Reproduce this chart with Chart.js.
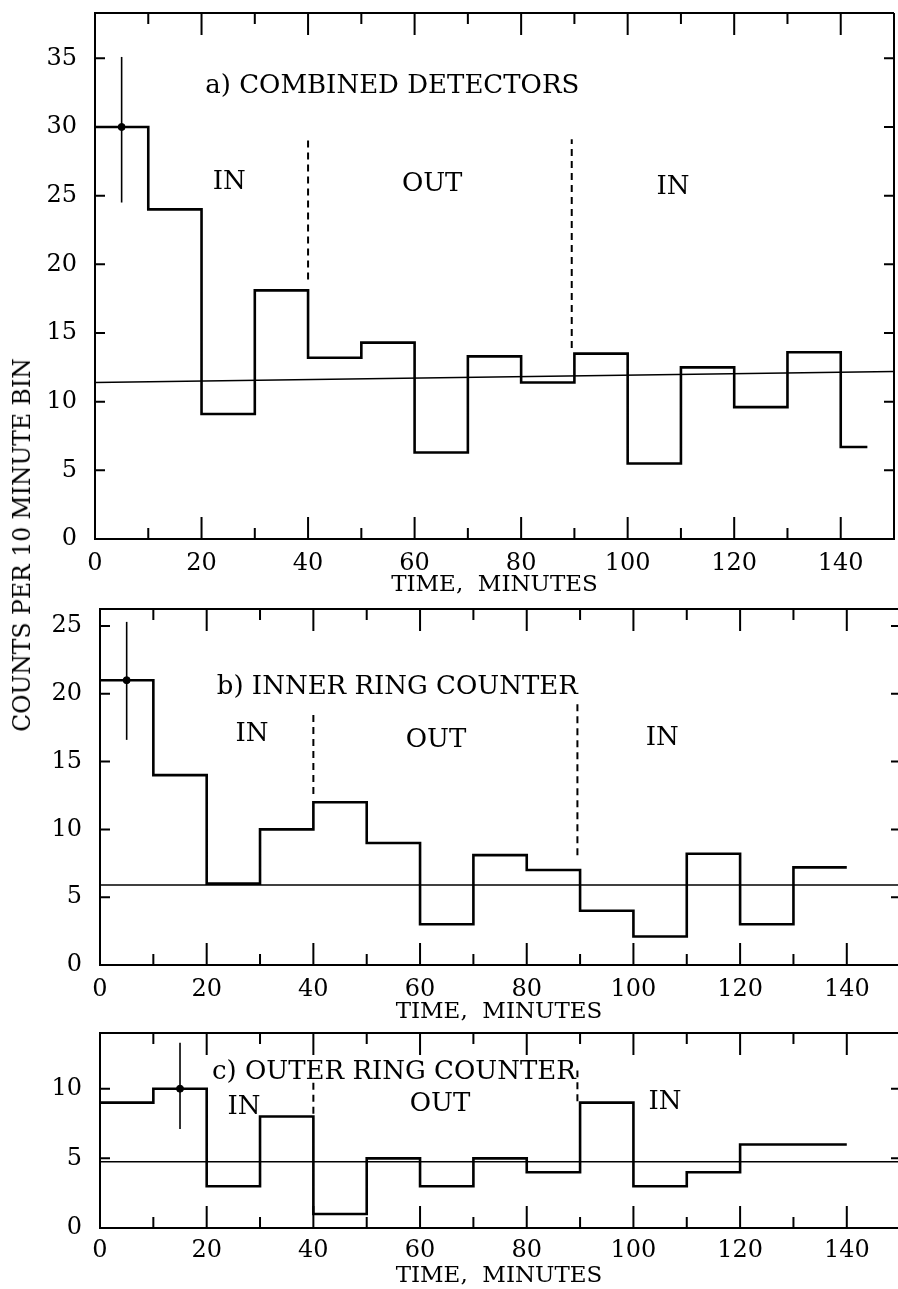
<!DOCTYPE html>
<html>
<head>
<meta charset="utf-8">
<script src="https://cdn.jsdelivr.net/npm/chart.js@4.4.1/dist/chart.umd.min.js"></script>
<style>
  html, body { margin: 0; padding: 0; background: #fff; overflow: hidden; width: 898px; height: 1289px; }
  #page { position: relative; width: 898px; height: 1289px; overflow: hidden; }
  canvas { position: absolute; left: 0; }
  #y-title {
    position: absolute; left: 22px; top: 545px;
    transform: translate(-50%, -50%) rotate(-90deg);
    font: 23.5px "DejaVu Serif"; white-space: nowrap; color: #000;
  }
</style>
</head>
<body>
<div id="page">
<canvas id="panel-a" width="898" height="605" style="top:0px"></canvas>
<canvas id="panel-b" width="898" height="442" style="top:590px"></canvas>
<canvas id="panel-c" width="898" height="281" style="top:1015px"></canvas>
<div id="y-title">COUNTS PER 10 MINUTE BIN</div>
</div>
<script>
// bin start times (minutes)
const binStarts = [0, 10, 20, 30, 40, 50, 60, 70, 80, 90, 100, 110, 120, 130, 140];

// counts per 10 minute bin
const countsA = [30, 24, 9.1, 18.1, 13.2, 14.3, 6.3, 13.3, 11.4, 13.5, 5.5, 12.5, 9.6, 13.6, 6.7];
const countsB = [21, 14, 6, 10, 12, 9, 3, 8.1, 7, 4, 2.1, 8.2, 3, 7.2];
const countsC = [9, 10, 3, 8, 1, 5, 3, 5, 4, 9, 3, 4, 6, 6];
const lastEdgeA = 145;
const lastEdgeB = 140;
const lastEdgeC = 140;

// fitted background level [at 0, at 150]
const fitA = [11.4, 12.2];
const fitB = [5.9, 5.9];
const fitC = [4.75, 4.75];

// error bar: [x, low, value, high]
const errA = [5, 24.5, 30, 35.1];
const errB = [5, 16.6, 21, 25.3];
const errC = [15, 7.1, 10, 13.3];

// IN / OUT boundaries: [x, from, to]
const dashA = [[40, 18.9, 29.2], [89.5, 13.9, 29.1]];
const dashB = [[40, 12.6, 18.7], [89.5, 8.1, 19.4]];
const dashC = [[40, 8.2, 10.6], [89.5, 9.1, 11.3]];

const yMaxA = 38.3;
const yMaxB = 26.25;
const yMaxC = 14;

// panels b and c are cut off by the page edge just short of 150
const xMaxA = 150;
const xMaxB = 149.6;
const xMaxC = 149.6;

const titleA = "a) COMBINED DETECTORS";
const titleB = "b) INNER RING COUNTER";
const titleC = "c) OUTER RING COUNTER";
const xTitle = "TIME,  MINUTES";

const serif = '"DejaVu Serif"';

function stepPoints(counts, lastEdge) {
  const pts = counts.map((c, i) => ({ x: binStarts[i], y: c }));
  pts.push({ x: lastEdge, y: counts[counts.length - 1] });
  return pts;
}

// box round the plot with ticks pointing inwards
const framePlugin = {
  id: "frame",
  afterDatasetsDraw(chart, args, opts) {
    const { ctx, chartArea: a, scales: { x, y } } = chart;
    ctx.save();
    ctx.strokeStyle = "#000";
    ctx.lineWidth = 2;
    ctx.beginPath();
    ctx.moveTo(a.right, a.top);
    ctx.lineTo(a.left, a.top);
    ctx.lineTo(a.left, a.bottom);
    ctx.lineTo(a.right, a.bottom);
    if (opts.rightEdge) ctx.lineTo(a.right, a.top);
    for (const t of x.ticks) {
      const px = x.getPixelForValue(t.value);
      if (px <= a.left + 1 || px >= a.right - 1) continue;
      const len = t.value % 20 === 0 ? 22 : 11;
      ctx.moveTo(px, a.bottom);
      ctx.lineTo(px, a.bottom - len);
      ctx.moveTo(px, a.top);
      ctx.lineTo(px, a.top + len);
    }
    for (const t of y.ticks) {
      const py = y.getPixelForValue(t.value);
      if (py >= a.bottom - 1 || py <= a.top + 1) continue;
      ctx.moveTo(a.left, py);
      ctx.lineTo(a.left + 10, py);
      ctx.moveTo(a.right, py);
      ctx.lineTo(a.right - (opts.rightEdge ? 10 : 7), py);
    }
    ctx.stroke();
    ctx.restore();
  },
};

const notesPlugin = {
  id: "notes",
  afterDraw(chart, args, opts) {
    const { ctx, scales: { x, y } } = chart;
    ctx.save();
    ctx.fillStyle = "#000";
    ctx.font = "26px " + serif;
    ctx.textBaseline = "middle";
    for (const n of opts.items) {
      ctx.textAlign = n.align || "center";
      ctx.fillText(n.text, x.getPixelForValue(n.x), y.getPixelForValue(n.y));
    }
    ctx.restore();
  },
};

function makePanel(id, p) {
  const datasets = [
    {
      data: stepPoints(p.counts, p.lastEdge),
      showLine: true, stepped: "before",
      borderColor: "#000", borderWidth: 2.6, pointRadius: 0,
    },
    {
      data: [{ x: 0, y: p.fit[0] }, { x: 150, y: p.fit[1] }],
      showLine: true, borderColor: "#000", borderWidth: 1.5, pointRadius: 0,
    },
    {
      data: [{ x: p.err[0], y: p.err[1] }, { x: p.err[0], y: p.err[3] }],
      showLine: true, borderColor: "#000", borderWidth: 1.6, pointRadius: 0,
    },
    {
      data: [{ x: p.err[0], y: p.err[2] }],
      pointRadius: 3.5, backgroundColor: "#000", borderColor: "#000",
    },
  ];
  for (const d of p.dash) {
    datasets.push({
      data: [{ x: d[0], y: d[1] }, { x: d[0], y: d[2] }],
      showLine: true, borderColor: "#000", borderWidth: 2,
      borderDash: [7, 5], pointRadius: 0,
    });
  }

  return new Chart(document.getElementById(id), {
    type: "scatter",
    data: { datasets },
    options: {
      responsive: false,
      animation: false,
      devicePixelRatio: 1,
      layout: {
        autoPadding: false,
        padding: { top: p.padTop, right: p.padRight, left: 0, bottom: 0 },
      },
      plugins: {
        legend: { display: false },
        tooltip: { enabled: false },
        notes: { items: p.notes },
        frame: { rightEdge: p.rightEdge },
      },
      scales: {
        x: {
          type: "linear", min: 0, max: p.xMax,
          grid: { display: false, drawTicks: false },
          border: { display: false },
          ticks: {
            stepSize: 10, autoSkip: false, maxRotation: 0, includeBounds: false,
            padding: p.xPad, color: "#000", font: { family: serif, size: 24 },
            callback: (v) => (v % 20 === 0 && v < 150 ? v : ""),
          },
          title: {
            display: true, text: xTitle, color: "#000",
            font: { family: serif, size: 23 }, padding: { top: 0, bottom: 6 },
          },
          afterFit: (s) => {
            s.height = p.xHeight;
            s.paddingLeft = 0;
            s.paddingRight = 0;
          },
        },
        y: {
          min: 0, max: p.yMax,
          grid: { display: false, drawTicks: false },
          border: { display: false },
          ticks: {
            stepSize: 5, includeBounds: false, padding: 18,
            color: "#000", font: { family: serif, size: 24 },
          },
          afterFit: (s) => {
            s.width = p.yWidth;
            s.paddingTop = 0;
            s.paddingBottom = 0;
          },
        },
      },
    },
    plugins: [framePlugin, notesPlugin],
  });
}

makePanel("panel-a", {
  counts: countsA, lastEdge: lastEdgeA, fit: fitA, err: errA, dash: dashA,
  yMax: yMaxA, xMax: xMaxA, rightEdge: true,
  padTop: 13, padRight: 4, xHeight: 66, yWidth: 95, xPad: 10,
  notes: [
    { text: titleA, x: 20.7, y: 33.0, align: "left" },
    { text: "IN", x: 25.2, y: 26.0 },
    { text: "OUT", x: 63.3, y: 25.8 },
    { text: "IN", x: 108.5, y: 25.6 },
  ],
});

makePanel("panel-b", {
  counts: countsB, lastEdge: lastEdgeB, fit: fitB, err: errB, dash: dashB,
  yMax: yMaxB, xMax: xMaxB, rightEdge: false,
  padTop: 19, padRight: 0, xHeight: 67, yWidth: 100, xPad: 10,
  notes: [
    { text: titleB, x: 21.9, y: 20.5, align: "left" },
    { text: "IN", x: 28.5, y: 17.0 },
    { text: "OUT", x: 63.0, y: 16.6 },
    { text: "IN", x: 105.4, y: 16.7 },
  ],
});

makePanel("panel-c", {
  counts: countsC, lastEdge: lastEdgeC, fit: fitC, err: errC, dash: dashC,
  yMax: yMaxC, xMax: xMaxC, rightEdge: false,
  padTop: 18, padRight: 0, xHeight: 68, yWidth: 100, xPad: 8,
  notes: [
    { text: titleC, x: 21.0, y: 11.2, align: "left" },
    { text: "IN", x: 27.0, y: 8.7 },
    { text: "OUT", x: 63.75, y: 8.9 },
    { text: "IN", x: 105.9, y: 9.0 },
  ],
});
</script>
</body>
</html>
